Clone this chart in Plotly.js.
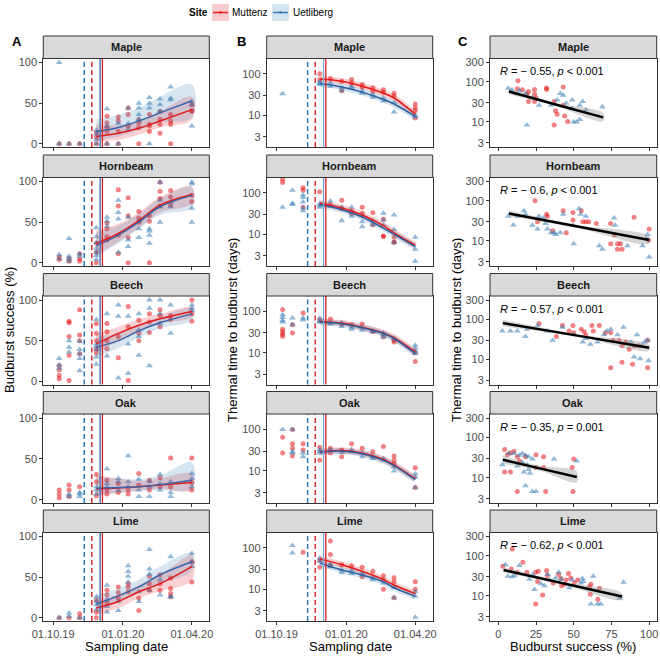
<!DOCTYPE html>
<html>
<head>
<meta charset="utf-8">
<script src="https://cdn.plot.ly/plotly-3.0.1.min.js"></script>
<style>
  body { margin: 0; background: #fff; }
  #plot { width: 660px; height: 656px; }
</style>
</head>
<body>
<div id="plot"></div>
<script>
const W = 660, H = 656;
const FONT = 'Liberation Sans, Arial, sans-serif';

const species = ['Maple', 'Hornbeam', 'Beech', 'Oak', 'Lime'];
const sampleDates = ['2019-10-09', '2019-10-22', '2019-11-05', '2019-11-27', '2019-12-11', '2019-12-26',
                     '2020-01-08', '2020-01-22', '2020-02-05', '2020-02-19', '2020-03-04', '2020-04-01'];
const dateTicks = ['2019-10-01', '2020-01-01', '2020-04-01'];
const dateTickText = ['01.10.19', '01.01.20', '01.04.20'];

// vertical reference dates (dashed and solid) per site
const dashedDate = { Muttenz: '2019-11-21', Uetliberg: '2019-11-11' };
const solidDate = { Muttenz: '2019-12-05', Uetliberg: '2019-12-02' };

// A: budburst success (%) – one list of values per sampling date
const successMuttenz = [
  [[0], [0], [0], [14, 8, 0], [34, 26, 20, 15, 0], [33, 28, 15, 0], [44, 36, 22], [30, 26, 20, 0], [36, 24, 22, 15], [40, 30, 24, 13], [36, 28, 24, 0], [48, 41, 40]],
  [[7, 4], [5, 2], [11, 5, 2], [24, 13, 0], [49, 42, 32, 28], [90, 70, 34, 11], [80, 58, 31, 0], [63, 55, 50], [58, 51, 0], [99, 88, 79, 70], [89, 81, 71], [83, 75]],
  [[19, 14, 7, 3], [74, 72, 55, 32, 1], [88, 57, 50, 34], [71, 59, 50, 40, 35], [71, 61, 50, 40], [55, 29], [92, 67, 1], [75, 59, 50], [83, 73, 60], [88, 81, 67], [81, 76], [100, 83, 74]],
  [[12, 7, 2], [18, 12, 4], [16], [31, 22, 5], [24, 12, 7], [20, 9], [12, 7], [32, 18], [24, 12], [27, 16], [51, 16], [51, 21, 12]],
  [[0], [0], [5, 0], [22, 7, 0], [34, 28, 18], [38, 31, 24], [42, 38, 32], [24, 9], [51, 42, 34], [53, 42, 34], [49, 36, 30, 26], [69, 44]]
];
const successUetliberg = [
  [[100, 0], [0], [0], [17, 12, 5, 0], [43, 22, 0], [25, 0], [44, 25, 18], [50, 44, 36, 30], [57, 50, 44, 0], [55, 48, 40], [70, 56, 54], [52, 48, 22]],
  [[10, 5], [30, 8, 5, 2], [11, 8], [43, 32, 25, 18, 13, 9, 4], [56, 51, 45], [77, 62, 54, 13], [56, 28, 20], [51, 42, 31], [42, 39, 34, 24], [99, 77, 69, 50], [75, 69], [99, 97, 67, 50]],
  [[28, 20, 16], [50, 42, 36], [49, 39, 34, 28, 13], [76, 46, 43, 39, 30, 21], [83, 31], [94, 80, 4], [80, 46, 10], [83, 63, 55, 32], [100, 90, 19], [100, 83, 71], [94, 59], [94, 90, 87]],
  [[], [7, 4], [9, 7, 4], [16, 12, 7], [38, 20, 16], [26, 22, 12], [54, 22, 16], [25, 12, 4], [22, 16, 4], [31, 20, 12], [22, 9, 4], [32, 26, 16]],
  [[0], [6, 2], [0], [26, 20, 16, 10], [40, 22, 14, 7], [20, 9], [64, 57, 51, 44], [32, 20], [84, 60, 54, 34], [47, 28], [75, 26, 26], [79, 69, 63]]
];

// A: fitted curves with confidence band
const fitDatesA = ['2019-11-27', '2019-12-26', '2020-01-22', '2020-02-19', '2020-04-01'];
const fitSuccessMut = [[9, 13, 19, 28, 42], [24, 36, 52, 71, 84], [46, 59, 69, 77, 86], [13, 14.5, 16, 18, 21], [12, 20, 32, 42, 63]];
const fitSuccessMutLo = [[3, 5, 11, 20, 30], [10, 26, 43, 62, 73], [35, 50, 62, 71, 79], [5, 8, 11, 13, 12], [4, 12, 24, 33, 46]];
const fitSuccessMutHi = [[24, 23, 28, 40, 58], [40, 48, 62, 81, 94], [58, 67, 76, 83, 91], [30, 26, 23, 26, 32], [22, 29, 40, 52, 77]];
const fitSuccessUet = [[15, 20, 28, 38, 53], [21, 34, 50, 69, 83], [42, 50, 62, 72, 83], [14, 15, 16, 18.5, 24], [17, 27, 38, 53, 69]];
const fitSuccessUetLo = [[4, 9, 17, 26, 32], [7, 24, 42, 59, 68], [30, 41, 54, 65, 75], [6, 9, 11, 12, 13], [8, 19, 30, 42, 58]];
const fitSuccessUetHi = [[30, 36, 44, 58, 73], [38, 46, 60, 79, 93], [55, 59, 70, 79, 90], [28, 26, 25, 30, 46], [28, 36, 47, 63, 80]];

// B: thermal time to budburst (days)
const thermalMuttenz = [
  [[], [], [], [100, 72], [77], [66, 39], [73, 60], [55, 48], [46, 38], [41, 36], [34, 29], [18.5, 15, 13, 8.5]],
  [[214, 178], [], [133, 116, 45], [106], [52], [66, 41], [37, 31], [45, 32], [33, 17], [23, 9, 8.8], [8.4, 6.5, 6.4], []],
  [[110, 37, 32, 28, 25], [30, 47], [91], [62], [65], [49], [47], [49], [32], [24], [20, 18], [10, 6.1]],
  [[65, 27], [100, 45, 35, 23], [45, 32], [37, 18], [35, 27], [32, 22], [45], [35], [29], [39], [23, 18, 15], [12, 4.0]],
  [[], [], [78], [34, 50], [146, 69, 37], [39], [37], [34, 20], [27], [21, 17, 10], [19, 15, 6.2], [15, 10]]
];
const thermalUetliberg = [
  [[33], [], [], [63, 59, 55], [60, 50], [46, 39], [50, 46], [38, 34], [31, 27], [26, 22], [20, 12], [10, 9]],
  [[45], [116, 56, 52], [88, 77, 60, 43, 37], [54, 45, 49], [63, 47], [45, 21], [45, 34, 27], [28, 20, 15], [21, 17], [32, 22, 17], [29, 13, 6.4], [8.4, 4.3, 2.2]],
  [[83, 71, 60, 55], [69, 47], [69, 62], [69, 57, 55], [52, 49], [52, 43], [41, 37], [40, 35], [34, 32], [30, 27, 24], [22], [15, 13, 11, 9.5]],
  [[100], [100, 29, 27], [27, 22], [30, 27, 33], [32], [28], [33, 29], [27, 22], [22, 20], [20, 18], [12.6, 10], [8.6, 7.2, 4.0]],
  [[], [114, 75], [], [57, 47], [41, 35], [29, 25], [24, 29], [25, 22], [19, 17], [14], [11, 6.2], [8.6, 6.7, 2.1]]
];
const fitDatesB = ['2019-11-27', '2019-12-26', '2020-01-22', '2020-02-19', '2020-03-04', '2020-04-01'];
const fitThermalMut = [[75, 66, 50, 34, 26, 10.6], [57, 43, 29, 16, 10.8, 5.4], [57, 52, 41, 30, 23, 10.4], [29, 31, 27, 19, 14, 6.5], [54, 39, 27, 17, 12.6, 7.8]];
const fitThermalUet = [[58, 48, 36, 24, 18.6, 9.3], [52, 39, 26, 14, 10, 5.0], [55, 50, 40, 29, 22, 9.5], [28, 30, 26, 18, 13.5, 6.2], [43, 29, 22, 15, 10.8, 6.7]];

// C: thermal time vs budburst success
const corrXMut = [
  [13, 12.6, 16, 19, 20, 24, 24, 25, 24, 32, 32, 37, 38, 39, 43, 43, 44, 37, 46, 20],
  [24.3, 32, 32.5, 43, 49.5, 55, 58, 60, 56, 65, 49.5, 45, 74.5, 77, 74.5, 79, 81, 82, 79, 90, 100, 99.6, 26, 36],
  [27, 42.5, 49.5, 55, 57, 62, 63, 67, 71, 74.5, 76, 80, 82, 84.5, 86.7, 90, 93, 99, 74.5, 82, 89, 99, 47, 50, 58, 38.5],
  [4.2, 6, 8, 10.4, 12.6, 14, 18, 25, 30, 25, 30, 49, 4.2, 8, 12.6, 31.4, 49.5, 50],
  [3, 9.3, 8.6, 12.5, 16.3, 19, 24.8, 26, 26.5, 29.4, 32, 32.5, 36.4, 40, 41.6, 42, 44, 45, 46.5, 48, 50.4, 52.6, 60.3, 61.4, 61, 66, 67, 24.8]
];
const corrYMut = [
  [106, 67, 63, 49, 57, 64, 49, 40, 32, 64, 70, 32, 19, 15.6, 74, 26, 14, 8.4, 10.2, 32],
  [100, 46, 41, 56, 51, 56, 30, 30, 30, 27, 33, 16, 27, 14, 8.5, 8.5, 8.5, 6.2, 6.2, 39, 19.7, 10.4, 30, 18],
  [78, 70, 70, 56, 49, 70, 51, 70, 46, 46, 30, 30, 22, 27, 18, 22, 22, 30, 6.2, 8.5, 7.6, 6.2, 51, 46, 40, 37],
  [50, 37, 41, 45, 33, 26, 33, 37, 33, 18, 18, 18, 14, 14, 4.6, 4.6, 4.6, 29],
  [55, 146, 47, 39, 69, 39, 39, 23, 41, 10.5, 43, 32, 21, 34, 27, 18, 19.5, 25, 36, 28, 21, 25, 17, 19.5, 11, 8.3, 15.5, 6.3]
];
const corrXUet = [
  [6.6, 9, 14, 18, 22.6, 27, 19, 39, 41, 43, 45, 49, 54, 56, 58, 49, 69, 50, 52, 54, 35],
  [6.6, 10, 12.6, 17, 18, 22.6, 26, 27, 30, 31.4, 32.5, 35, 37, 38, 41, 43, 49.5, 50, 53.5, 54.6, 58, 67, 69, 76.8, 77.4, 85.6, 95.6, 98, 100, 99],
  [2.7, 8, 12.6, 18, 19, 26, 32.5, 42.5, 50, 56, 58, 61, 65.7, 70, 74.5, 79, 83, 87.8, 92, 95.6, 97, 99, 90, 94, 99.6, 36, 72],
  [2.7, 7, 10.4, 14, 16, 18, 20, 22.6, 19, 20, 21, 17, 18, 22.6, 25, 37, 52, 12.6, 16],
  [4.8, 6.4, 9.3, 10.8, 14, 20.6, 22.8, 24, 28.3, 30.6, 32.7, 34, 38, 40, 41.7, 47, 49, 54.8, 55.8, 56.3, 62.9, 61.4, 65.8, 68, 80.3, 83]
];
const corrYUet = [
  [69, 63, 60, 51, 40, 26, 8.4, 35, 51, 46, 29, 35, 26, 32, 20, 21.6, 23.5, 10, 10, 11.5, 26],
  [41, 25, 41, 56, 46, 24.5, 19.7, 41, 37, 27, 19.7, 16, 16, 14.4, 16, 46, 24.5, 8.5, 63, 46, 41, 7.6, 6.2, 37, 24.5, 7.6, 7.6, 11.5, 4.0, 14.4],
  [51, 51, 51, 37, 56, 70, 51, 63, 41, 27, 33, 24, 27, 41, 56, 41, 63, 27, 41, 22, 27, 30, 11.5, 10.4, 9.3, 30, 51],
  [21, 40, 40, 36, 40, 36, 33, 29, 21, 16, 13, 14, 6.4, 4.6, 4.6, 29, 26, 19.5, 24],
  [60, 31, 30, 32, 57, 26, 34, 14.5, 20, 18, 34, 25, 28, 39, 26, 16, 25, 21, 27, 23, 31, 6.3, 6.3, 6.3, 8.7, 22]
];
// regression line (start, middle, end) with band
const regX = [[7, 38, 69.5], [7, 53.5, 100], [3, 51.5, 100], [3, 27.5, 52], [3.5, 42.75, 82]];
const regY = [[57, 27.2, 13], [48, 22.4, 10.5], [80, 39.6, 19.6], [28, 17.1, 10.5], [44, 20.7, 9.7]];
const regLo = [[48, 25, 10.5], [41, 20.5, 8.5], [66, 37, 16.5], [22, 15, 7.8], [38, 19.3, 8]];
const regHi = [[68, 29.5, 16.5], [56, 24.5, 13], [97, 42.5, 23], [36, 19.5, 14.5], [51, 22.2, 11.7]];
const corrR = ['\u2212 0.55', '\u2212 0.6', '\u2212 0.57', '\u2212 0.35', '\u2212 0.62'];
const corrP = ['&lt; 0.001', '&lt; 0.001', '&lt; 0.001', '= 0.001', '&lt; 0.001'];

const RED = '#E41A1C', BLUE = '#377EB8';
const colPx = [[43.3, 209.3], [266.7, 432.7], [490, 656.7]];
const rowPx = [[58.5, 147], [177.5, 266], [296, 384.5], [414, 503], [532.5, 621]];
const stripH = 22.5;

const traces = [], shapes = [], annotations = [];
const layout = {
  width: W, height: H,
  margin: { l: 0, r: 0, t: 0, b: 0 },
  paper_bgcolor: '#fff', plot_bgcolor: '#fff',
  showlegend: false,
  font: { family: FONT, color: '#000' }
};

const sfx = n => (n === 1 ? '' : String(n));

function flatten(byDate) {
  const xs = [], ys = [];
  byDate.forEach((vals, i) => vals.forEach(v => { xs.push(sampleDates[i]); ys.push(v); }));
  return { xs, ys };
}

function points(x, y, color, symbol, size, xa, ya) {
  return {
    x, y, xaxis: xa, yaxis: ya, type: 'scatter', mode: 'markers', hoverinfo: 'skip',
    marker: { color, symbol, size, opacity: 0.55, line: { width: 0 } }
  };
}

function band(x, lo, hi, fill, xa, ya) {
  return {
    x: x.concat(x.slice().reverse()), y: hi.concat(lo.slice().reverse()),
    xaxis: xa, yaxis: ya, type: 'scatter', mode: 'lines', fill: 'toself', fillcolor: fill,
    line: { width: 0, shape: 'spline' }, hoverinfo: 'skip'
  };
}

function line(x, y, color, width, xa, ya) {
  return {
    x, y, xaxis: xa, yaxis: ya, type: 'scatter', mode: 'lines', hoverinfo: 'skip',
    line: { color, width, shape: 'spline' }
  };
}

const baseAxis = {
  showline: true, mirror: true, linecolor: '#333333', linewidth: 1,
  ticks: 'outside', ticklen: 3, tickcolor: '#333333', tickwidth: 1,
  showgrid: false, zeroline: false,
  tickfont: { family: FONT, size: 11, color: '#4d4d4d' }
};

species.forEach((sp, r) => {
  for (let c = 0; c < 3; c++) {
    const n = r * 3 + c + 1;
    const xa = 'x' + sfx(n), ya = 'y' + sfx(n);
    const yDom = [1 - rowPx[r][1] / H, 1 - rowPx[r][0] / H];
    const xDom = [colPx[c][0] / W, colPx[c][1] / W];

    const xaxis = Object.assign({}, baseAxis, { domain: xDom, anchor: ya, showticklabels: r === 4 });
    const yaxis = Object.assign({}, baseAxis, { domain: yDom, anchor: xa });

    if (c < 2) {
      Object.assign(xaxis, { type: 'date', range: ['2019-09-18', '2020-04-24'], tickvals: dateTicks, ticktext: dateTickText });
    } else {
      Object.assign(xaxis, { range: [-5.5, 105], tickvals: [0, 25, 50, 75, 100] });
    }
    if (c === 0) {
      Object.assign(yaxis, { range: [-4, 105], tickvals: [0, 50, 100] });
    } else if (c === 1) {
      Object.assign(yaxis, { type: 'log', range: [0.23, 2.37], tickvals: [3, 10, 30, 100], ticktext: ['3', '10', '30', '100'] });
    } else {
      Object.assign(yaxis, { type: 'log', range: [0.377, 2.577], tickvals: [3, 10, 30, 100, 300], ticktext: ['3', '10', '30', '100', '300'] });
    }
    layout['xaxis' + sfx(n)] = xaxis;
    layout['yaxis' + sfx(n)] = yaxis;

    if (c === 0) {
      const m = flatten(successMuttenz[r]), u = flatten(successUetliberg[r]);
      traces.push(points(m.xs, m.ys, RED, 'circle', 5, xa, ya));
      traces.push(points(u.xs, u.ys, BLUE, 'triangle-up', 6, xa, ya));
      traces.push(band(fitDatesA, fitSuccessMutLo[r], fitSuccessMutHi[r], 'rgba(228,26,28,0.2)', xa, ya));
      traces.push(band(fitDatesA, fitSuccessUetLo[r], fitSuccessUetHi[r], 'rgba(55,126,184,0.2)', xa, ya));
      traces.push(line(fitDatesA, fitSuccessMut[r], RED, 1.5, xa, ya));
      traces.push(line(fitDatesA, fitSuccessUet[r], '#3b63a6', 1.5, xa, ya));
    } else if (c === 1) {
      const m = flatten(thermalMuttenz[r]), u = flatten(thermalUetliberg[r]);
      traces.push(points(m.xs, m.ys, RED, 'circle', 5, xa, ya));
      traces.push(points(u.xs, u.ys, BLUE, 'triangle-up', 6, xa, ya));
      traces.push(line(fitDatesB, fitThermalMut[r], 'rgba(228,26,28,0.22)', 6, xa, ya));
      traces.push(line(fitDatesB, fitThermalUet[r], 'rgba(55,126,184,0.22)', 6, xa, ya));
      traces.push(line(fitDatesB, fitThermalMut[r], RED, 1.5, xa, ya));
      traces.push(line(fitDatesB, fitThermalUet[r], '#2f5f9e', 1.5, xa, ya));
    } else {
      traces.push(points(corrXMut[r], corrYMut[r], RED, 'circle', 5, xa, ya));
      traces.push(points(corrXUet[r], corrYUet[r], BLUE, 'triangle-up', 6, xa, ya));
      traces.push(band(regX[r], regLo[r], regHi[r], 'rgba(150,150,150,0.4)', xa, ya));
      traces.push(line(regX[r], regY[r], '#000', 2.5, xa, ya));
      annotations.push({
        xref: xa, yref: ya + ' domain', x: 0, y: 1 - 12.7 / 88.5, xanchor: 'left', yanchor: 'middle',
        text: '<i>R</i> = ' + corrR[r] + ', <i>p</i> ' + corrP[r], showarrow: false,
        font: { family: FONT, size: 11, color: '#000' }
      });
    }

    // reference lines
    if (c < 2) {
      [['Uetliberg', '#2b7bba'], ['Muttenz', '#d62c2f']].forEach(([site, col]) => {
        shapes.push({ type: 'line', xref: xa, yref: ya + ' domain', x0: dashedDate[site], x1: dashedDate[site], y0: 0, y1: 1,
                      line: { color: col, width: 1.5, dash: '5px,3px' } });
      });
      shapes.push({ type: 'line', xref: xa, yref: ya + ' domain', x0: solidDate.Uetliberg, x1: solidDate.Uetliberg, y0: 0, y1: 1,
                    line: { color: c === 1 ? '#6fa3d4' : '#3d6fb0', width: 1.3 } });
      shapes.push({ type: 'line', xref: xa, yref: ya + ' domain', x0: solidDate.Muttenz, x1: solidDate.Muttenz, y0: 0, y1: 1,
                    line: { color: '#d81e22', width: 1.3 } });
    }

    // facet strip
    const stripTop = 1 + stripH / (rowPx[r][1] - rowPx[r][0]);
    shapes.push({ type: 'rect', xref: xa + ' domain', yref: ya + ' domain', x0: 0, x1: 1, y0: 1, y1: stripTop,
                  fillcolor: '#d9d9d9', line: { color: '#333333', width: 1 } });
    annotations.push({ xref: xa + ' domain', yref: ya + ' domain', x: 0.5, y: (1 + stripTop) / 2,
                       xanchor: 'center', yanchor: 'middle', text: sp, showarrow: false,
                       font: { family: FONT, size: 11, color: '#1a1a1a', weight: 'bold' } });
  }
});

// axis titles and panel letters (paper pixels)
function paperText(text, px, py, opts) {
  annotations.push(Object.assign({
    xref: 'paper', yref: 'paper', x: px / W, y: 1 - py / H, text, showarrow: false,
    xanchor: 'center', yanchor: 'middle', font: { family: FONT, size: 13, color: '#000' }
  }, opts || {}));
}
paperText('Budburst success (%)', 9, 330, { textangle: -90 });
paperText('Thermal time to budburst (days)', 232, 330, { textangle: -90 });
paperText('Thermal time to budburst (days)', 456, 330, { textangle: -90 });
paperText('Sampling date', 126.5, 646);
paperText('Sampling date', 350, 646);
paperText('Budburst success (%)', 573, 646);
paperText('A', 17, 41, { font: { family: FONT, size: 13, color: '#000', weight: 'bold' } });
paperText('B', 241, 41, { font: { family: FONT, size: 13, color: '#000', weight: 'bold' } });
paperText('C', 463, 41, { font: { family: FONT, size: 13, color: '#000', weight: 'bold' } });

// legend
const legendItems = [['Muttenz', RED, 'rgba(228,26,28,0.22)', 212, 250], ['Uetliberg', BLUE, 'rgba(55,126,184,0.22)', 272, 313]];
paperText('Site', 198, 12.5, { font: { family: FONT, size: 10, color: '#000', weight: 'bold' } });
legendItems.forEach(([name, col, fill, kx, tx]) => {
  shapes.push({ type: 'rect', xref: 'paper', yref: 'paper', x0: kx / W, x1: (kx + 17) / W, y0: 1 - 21 / H, y1: 1 - 4 / H,
                fillcolor: fill, line: { width: 0 } });
  shapes.push({ type: 'line', xref: 'paper', yref: 'paper', x0: (kx + 1) / W, x1: (kx + 16) / W, y0: 1 - 12.5 / H, y1: 1 - 12.5 / H,
                line: { color: col, width: 1.5 } });
  shapes.push({ type: 'circle', xref: 'paper', yref: 'paper', x0: (kx + 7.3) / W, x1: (kx + 9.7) / W, y0: 1 - 13.7 / H, y1: 1 - 11.3 / H,
                fillcolor: col, line: { width: 0 } });
  paperText(name, tx, 12.5, { font: { family: FONT, size: 10, color: '#000' } });
});

layout.shapes = shapes;
layout.annotations = annotations;

Plotly.newPlot('plot', traces, layout, { staticPlot: true, displayModeBar: false });
</script>
</body>
</html>
